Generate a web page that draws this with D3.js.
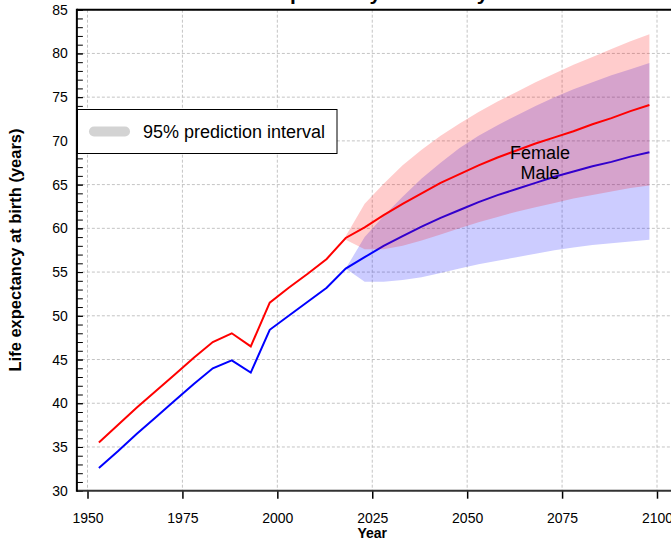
<!DOCTYPE html>
<html>
<head>
<meta charset="utf-8">
<script src="https://cdn.jsdelivr.net/npm/d3@7"></script>
<style>
  html, body { margin: 0; padding: 0; background: #fff; overflow: hidden; }
  svg { display: block; font-family: "Liberation Sans", Arial, Helvetica, sans-serif; }
</style>
</head>
<body>
<svg id="chart" width="671" height="539"></svg>
<script>
// ---------------- data ----------------
const titleText = "Life expectancy at birth by sex";
const xLabel = "Year";
const yLabel = "Life expectancy at birth (years)";
const legendLabel = "95% prediction interval";

const histYears   = [1953, 1958, 1963, 1968, 1973, 1978, 1983, 1988, 1993, 1998, 2003, 2008, 2013, 2018];
const histFemale  = [35.5, 37.5, 39.5, 41.4, 43.3, 45.2, 47.0, 48.0, 46.5, 51.5, 53.2, 54.8, 56.5, 58.9];
const histMale    = [32.6, 34.5, 36.5, 38.4, 40.3, 42.2, 44.0, 44.9, 43.5, 48.4, 50.0, 51.6, 53.2, 55.4];

const projYears   = [2018, 2023, 2028, 2033, 2038, 2043, 2048, 2053, 2058, 2063, 2068, 2073, 2078, 2083, 2088, 2093, 2098];
const projFemale  = [58.9, 60.1, 61.5, 62.8, 64.0, 65.2, 66.2, 67.2, 68.1, 68.9, 69.7, 70.4, 71.1, 71.9, 72.6, 73.4, 74.1];
const projMale    = [55.4, 56.7, 58.0, 59.1, 60.2, 61.2, 62.1, 63.0, 63.8, 64.5, 65.2, 65.9, 66.5, 67.1, 67.6, 68.2, 68.7];
const femaleLower = [58.7, 57.6, 57.6, 58.0, 58.6, 59.3, 60.0, 60.7, 61.3, 61.9, 62.4, 62.9, 63.4, 63.8, 64.2, 64.6, 64.9];
const femaleUpper = [59.1, 62.8, 65.1, 67.2, 69.0, 70.6, 72.0, 73.3, 74.5, 75.6, 76.7, 77.7, 78.7, 79.6, 80.5, 81.4, 82.2];
const maleLower   = [55.4, 53.9, 53.9, 54.1, 54.4, 54.9, 55.4, 55.9, 56.3, 56.7, 57.1, 57.5, 57.8, 58.1, 58.3, 58.5, 58.7];
const maleUpper   = [55.4, 59.0, 61.4, 63.6, 65.7, 67.5, 69.2, 70.6, 71.8, 72.9, 74.0, 75.0, 75.9, 76.7, 77.5, 78.2, 78.9];

const xTicks = [1950, 1975, 2000, 2025, 2050, 2075, 2100];
const yTicks = [30, 35, 40, 45, 50, 55, 60, 65, 70, 75, 80, 85];
const yMinorTicks = d3.range(30, 86, 1);
const xDomainFull = [1947.2, 2105];

// ---------------- scales ----------------
const svg = d3.select("#chart");
const x = d3.scaleLinear().domain([1950, 2100]).range([87.5, 657]);
const y = d3.scaleLinear().domain([30, 85]).range([490.7, 9.7]);
const pLeft = x(xDomainFull[0]), pRight = x(xDomainFull[1]);
const pTop = y(85), pBottom = y(30);

// ---------------- grid ----------------
const grid = svg.append("g").attr("class", "grid");
grid.selectAll("line.gx").data(xTicks).join("line")
  .attr("x1", d => x(d)).attr("x2", d => x(d))
  .attr("y1", pTop).attr("y2", pBottom)
  .attr("stroke", "#c4c4c4").attr("stroke-width", 1).attr("stroke-dasharray", "3,2");
grid.selectAll("line.gy").data(yTicks).join("line")
  .attr("x1", pLeft).attr("x2", pRight)
  .attr("y1", d => y(d)).attr("y2", d => y(d))
  .attr("stroke", "#c4c4c4").attr("stroke-width", 1).attr("stroke-dasharray", "3,2");

// ---------------- bands & lines ----------------
const projRows = projYears.map((yr, i) => ({
  year: yr, f: projFemale[i], m: projMale[i],
  fl: femaleLower[i], fu: femaleUpper[i], ml: maleLower[i], mu: maleUpper[i]
}));
const femaleRows = histYears.map((yr, i) => ({ year: yr, v: histFemale[i] }))
  .concat(projRows.slice(1).map(d => ({ year: d.year, v: d.f })));
const maleRows = histYears.map((yr, i) => ({ year: yr, v: histMale[i] }))
  .concat(projRows.slice(1).map(d => ({ year: d.year, v: d.m })));

const lineGen = d3.line().x(d => x(d.year)).y(d => y(d.v));

svg.append("path").datum(projRows)
  .attr("d", d3.area().x(d => x(d.year)).y0(d => y(d.ml)).y1(d => y(d.mu)))
  .attr("fill", "rgb(0,0,255)").attr("fill-opacity", 0.2);
svg.append("path").datum(maleRows)
  .attr("d", lineGen).attr("fill", "none").attr("stroke", "#0000ff").attr("stroke-width", 2);
svg.append("path").datum(projRows)
  .attr("d", d3.area().x(d => x(d.year)).y0(d => y(d.fl)).y1(d => y(d.fu)))
  .attr("fill", "rgb(255,0,0)").attr("fill-opacity", 0.2);
svg.append("path").datum(femaleRows)
  .attr("d", lineGen).attr("fill", "none").attr("stroke", "#ff0000").attr("stroke-width", 2);

// ---------------- axes ----------------
const yAxisMinor = svg.append("g").attr("transform", `translate(${pLeft},0)`)
  .call(d3.axisLeft(y).tickValues(yMinorTicks).tickSize(-6).tickSizeOuter(0).tickFormat(""));
yAxisMinor.select(".domain").remove();
yAxisMinor.selectAll(".tick line").attr("stroke", "#000").attr("stroke-width", 1);

const yAxis = svg.append("g").attr("transform", `translate(${pLeft},0)`)
  .call(d3.axisLeft(y).tickValues(yTicks).tickSize(-6).tickSizeOuter(0).tickPadding(9));
yAxis.select(".domain").remove();
yAxis.selectAll(".tick line").attr("stroke", "#000");
yAxis.selectAll("text").attr("font-size", 14).attr("fill", "#000")
  .attr("font-family", "Liberation Sans, Arial, sans-serif");

const xAxis = svg.append("g").attr("transform", `translate(0,${pBottom})`)
  .call(d3.axisBottom(x).tickValues(xTicks).tickSize(8).tickSizeOuter(0).tickPadding(14).tickFormat(d3.format("d")));
xAxis.select(".domain").remove();
xAxis.selectAll(".tick line").attr("stroke", "#000").attr("stroke-width", 1.5);
xAxis.selectAll("text").attr("font-size", 14).attr("fill", "#000")
  .attr("font-family", "Liberation Sans, Arial, sans-serif");

// frame
svg.append("line").attr("x1", pLeft).attr("x2", pRight).attr("y1", pTop).attr("y2", pTop)
  .attr("stroke", "#000").attr("stroke-width", 2);
svg.append("line").attr("x1", pRight).attr("x2", pRight).attr("y1", pTop).attr("y2", pBottom)
  .attr("stroke", "#000").attr("stroke-width", 2);
svg.append("line").attr("x1", pLeft).attr("x2", pRight).attr("y1", pBottom).attr("y2", pBottom)
  .attr("stroke", "#333").attr("stroke-width", 2);
svg.append("line").attr("x1", pLeft).attr("x2", pLeft).attr("y1", pTop - 1).attr("y2", pBottom + 1)
  .attr("stroke", "#000").attr("stroke-width", 2);

// ---------------- titles ----------------
svg.append("text").text(titleText)
  .attr("x", (pLeft + pRight) / 2).attr("y", 0)
  .attr("text-anchor", "middle").attr("font-size", 21).attr("font-weight", "bold").attr("fill", "#000");

svg.append("text").text(xLabel)
  .attr("x", x(2025)).attr("y", 537.5)
  .attr("text-anchor", "middle").attr("font-size", 14).attr("font-weight", "bold").attr("fill", "#000");

svg.append("text").text(yLabel)
  .attr("transform", "translate(21,250) rotate(-90)")
  .attr("text-anchor", "middle").attr("font-size", 16.5).attr("font-weight", "bold").attr("fill", "#000");

// ---------------- legend ----------------
const lg = svg.append("g");
lg.append("rect").attr("x", 77.5).attr("y", 109.5).attr("width", 259.5).attr("height", 44)
  .attr("fill", "#fff").attr("stroke", "#000").attr("stroke-width", 1);
lg.append("line").attr("x1", 94).attr("x2", 125).attr("y1", 131.5).attr("y2", 131.5)
  .attr("stroke", "#d3d3d3").attr("stroke-width", 10).attr("stroke-linecap", "round");
lg.append("text").text(legendLabel).attr("x", 143).attr("y", 137.5)
  .attr("font-size", 18).attr("fill", "#000");

// ---------------- series labels ----------------
svg.append("text").text("Female").attr("x", 540).attr("y", 158.5)
  .attr("text-anchor", "middle").attr("font-size", 18).attr("fill", "#000");
svg.append("text").text("Male").attr("x", 540).attr("y", 179)
  .attr("text-anchor", "middle").attr("font-size", 18).attr("fill", "#000");
</script>
</body>
</html>
